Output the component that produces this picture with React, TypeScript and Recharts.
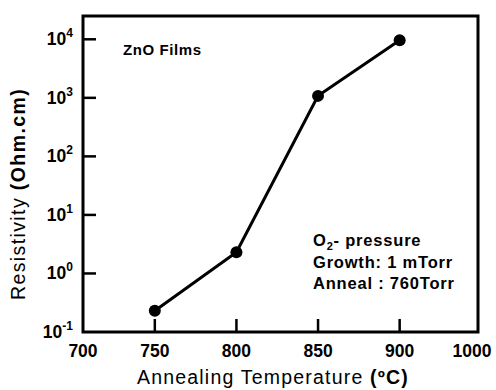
import { LineChart, Line, XAxis, YAxis, ReferenceArea } from "recharts";

const temps = [750, 800, 850, 900];
const resistivity = [0.23, 2.3, 1080, 9600];

const xTicks = [706, 750, 800, 850, 900, 948];
const xTickLabels = ["700", "750", "800", "850", "900", "1000"];
const yTicks = [0.1, 1, 10, 100, 1000, 10000];
const yTickExps = ["-1", "0", "1", "2", "3", "4"];
const yMax = 25000;

const noteLines = ["- pressure", "Growth: 1 mTorr", "Anneal : 760Torr"];

const FONT = "'Liberation Sans', Arial, Helvetica, sans-serif";

const chartData = temps.map((t, i) => ({ temp: t, r: resistivity[i] }));

function XTick(props: any) {
  const { x, y, index } = props;
  const last = index === xTicks.length - 1;
  const isEnd = index === 0 || last;
  return (
    <g>
      {!isEnd && <line x1={x} x2={x} y1={y} y2={y - 13} stroke="#000" strokeWidth={2.5} />}
      <text
        x={last ? x - 6 : x}
        y={y + 25}
        textAnchor="middle"
        fontFamily={FONT}
        fontWeight="bold"
        fontSize={17.5}
        fill="#000"
      >
        {xTickLabels[index]}
      </text>
    </g>
  );
}

function YTick(props: any) {
  const { x, y, index } = props;
  const exp = yTickExps[index];
  return (
    <g>
      {index > 0 && <line x1={x} x2={x + 13} y1={y} y2={y} stroke="#000" strokeWidth={2.5} />}
      <text x={x - 10} y={y + 6} textAnchor="end" fontFamily={FONT} fontWeight="bold" fill="#000">
        <tspan fontSize={17.5}>10</tspan>
        <tspan fontSize={12} dy={-8}>{exp}</tspan>
      </text>
    </g>
  );
}

export default function App() {
  return (
    <div style={{ position: "absolute", left: 0, top: 0, width: 496, height: 390, background: "#fff" }}>
      <LineChart width={496} height={390} data={chartData} margin={{ top: 16, right: 18, bottom: 28, left: 23 }}>
        <XAxis
          dataKey="temp"
          type="number"
          domain={[xTicks[0], xTicks[xTicks.length - 1]]}
          ticks={xTicks}
          interval={0}
          tickSize={0}
          tickMargin={0}
          height={30}
          axisLine={false}
          tick={<XTick />}
          allowDataOverflow
        />
        <YAxis
          type="number"
          scale="log"
          domain={[yTicks[0], yMax]}
          ticks={yTicks}
          interval={0}
          tickSize={0}
          tickMargin={0}
          width={60}
          axisLine={false}
          tick={<YTick />}
          allowDataOverflow
        />
        <ReferenceArea
          x1={xTicks[0]}
          x2={xTicks[xTicks.length - 1]}
          y1={yTicks[0]}
          y2={yMax}
          fill="none"
          fillOpacity={0}
          stroke="#000"
          strokeWidth={3}
        />
        <Line
          type="linear"
          dataKey="r"
          stroke="#000"
          strokeWidth={3}
          dot={{ r: 6, fill: "#000", stroke: "#000", strokeWidth: 0 }}
          isAnimationActive={false}
        />
      </LineChart>
      <svg width={496} height={390} style={{ position: "absolute", left: 0, top: 0, pointerEvents: "none" }}>
        <text x={123} y={55} fontFamily={FONT} fontWeight="bold" fontSize={15} letterSpacing={0.6} fill="#000">
          ZnO Films
        </text>
        <text x={313} y={246} fontFamily={FONT} fontWeight="bold" fontSize={16.5} letterSpacing={0.8} fill="#000">
          <tspan>O</tspan>
          <tspan fontSize={11} dy={4}>2</tspan>
          <tspan dy={-4}>{noteLines[0]}</tspan>
        </text>
        <text x={313} y={268} fontFamily={FONT} fontWeight="bold" fontSize={16.5} letterSpacing={0.8} fill="#000">
          {noteLines[1]}
        </text>
        <text x={313} y={289} fontFamily={FONT} fontWeight="bold" fontSize={16.5} letterSpacing={0.8} fill="#000">
          {noteLines[2]}
        </text>
        <text
          x={273}
          y={384}
          textAnchor="middle"
          fontFamily={FONT}
          fontSize={19.5}
          letterSpacing={1.2}
          fill="#000"
        >
          Annealing Temperature <tspan fontWeight="bold">(ºC)</tspan>
        </text>
        <text
          x={0}
          y={0}
          transform="translate(25,194) rotate(-90)"
          textAnchor="middle"
          fontFamily={FONT}
          fontSize={19.5}
          letterSpacing={1.4}
          fill="#000"
        >
          Resistivity <tspan fontWeight="bold">(Ohm.cm)</tspan>
        </text>
      </svg>
    </div>
  );
}
